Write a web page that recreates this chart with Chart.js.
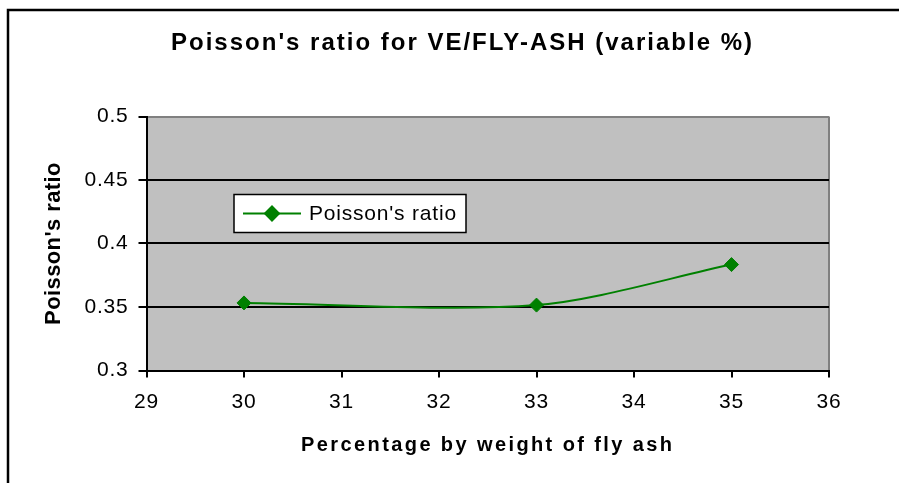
<!DOCTYPE html>
<meta charset="utf-8">
<html lang="en">
<head>
  <title>poisson ratio vs fly ash</title>
  <style type="text/css">
  body { margin: 0; background: #ffffff; }
  canvas { display: block; }
  </style>
</head>
<body>

<canvas id="myChart" width="899" height="483"></canvas>

<script src="https://cdn.jsdelivr.net/npm/chart.js"></script>

<script>

  // values
  const FlyAsh  = [30, 33, 35];               // % by weight
  const Poisson = [0.3532, 0.3515, 0.3834];
  const Xtics = [29, 30, 31, 32, 33, 34, 35, 36];
  const Ytics = [0.3, 0.35, 0.4, 0.45, 0.5];
  const SERIES = "Poisson's ratio";
  const TITLE = "Poisson's ratio for VE/FLY-ASH (variable %)";

  const FONT = '"Liberation Sans", Arial, sans-serif';
  const GREEN = '#008000';

  const canvas = document.getElementById('myChart');
  const ctx = canvas.getContext('2d');

  // the original text is spread out a lot, so add letter spacing per kind of text
  const rawFillText = ctx.fillText.bind(ctx);
  ctx.fillText = function(text, x, y, maxWidth) {
    var f = ctx.font;
    var m = /(\d+(\.\d+)?)px/.exec(f);
    var size = m ? parseFloat(m[1]) : 12;
    var ls = 0.8;                       // tick labels + legend
    if (/bold|700/.test(f)) {
      if (size >= 24) ls = 2;           // chart title
      else if (size >= 22) ls = 0.4;    // y axis title
      else ls = 2.4;                    // x axis title
    }
    ctx.letterSpacing = ls + 'px';
    if (maxWidth === undefined) rawFillText(text, x, y);
    else rawFillText(text, x, y, maxWidth);
    ctx.letterSpacing = '0px';
  };

  let Datapts = [];
  for (var i = 0; i < FlyAsh.length; ++i) {
    Datapts.push({x: FlyAsh[i], y: Poisson[i]});
  }

  // grey plot area + the frame of the chart object + title
  const backdrop = {
    id: 'backdrop',
    beforeDraw: (chart) => {
      const c = chart.ctx;
      const a = chart.chartArea;
      c.save();
      c.fillStyle = '#ffffff';
      c.fillRect(0, 0, chart.width, chart.height);
      c.strokeStyle = '#000000';
      c.lineWidth = 2.5;
      c.strokeRect(8, 10, chart.width + 10, chart.height + 10);
      c.fillStyle = '#c0c0c0';
      c.fillRect(a.left, a.top, a.right - a.left, a.bottom - a.top);
      c.strokeStyle = '#808080';
      c.lineWidth = 2;
      c.beginPath();
      c.moveTo(a.right, a.top);
      c.lineTo(a.right, a.bottom);
      c.stroke();
      // title is centred on the whole excel chart object, not on the canvas
      c.fillStyle = '#000000';
      c.font = 'bold 24px ' + FONT;
      c.textAlign = 'center';
      c.textBaseline = 'alphabetic';
      c.fillText(TITLE, chart.width / 2 + 13, 50);
      c.restore();
    }
  };

  // legend box sits inside the plot, like excel put it
  const boxLegend = {
    id: 'boxLegend',
    afterDraw: (chart) => {
      const c = chart.ctx;
      const a = chart.chartArea;
      const ds = chart.data.datasets[0];
      const x0 = a.left + 87.5, y0 = a.top + 78, w = 232, h = 38;
      const ym = y0 + h / 2;
      c.save();
      c.fillStyle = '#ffffff';
      c.fillRect(x0, y0, w, h);
      c.strokeStyle = '#000000';
      c.lineWidth = 1.5;
      c.strokeRect(x0, y0, w, h);
      c.strokeStyle = ds.borderColor;
      c.lineWidth = ds.borderWidth;
      c.beginPath();
      c.moveTo(x0 + 9, ym);
      c.lineTo(x0 + 67, ym);
      c.stroke();
      c.fillStyle = ds.pointBackgroundColor;
      c.strokeStyle = ds.pointBorderColor;
      Chart.helpers.drawPoint(c, {pointStyle: 'rectRot', radius: ds.pointRadius, borderWidth: 1}, x0 + 38, ym);
      c.fillStyle = '#000000';
      c.font = '21px ' + FONT;
      c.textAlign = 'left';
      c.textBaseline = 'middle';
      c.fillText(ds.label, x0 + 75, ym + 1);
      c.restore();
    }
  };

  const our_chart = new Chart(canvas, {
    type: 'scatter',
    data: {
      datasets: [{
        label: SERIES,
        data: Datapts,
        showLine: true,
        tension: 0.3,
        borderColor: GREEN,
        borderWidth: 2,
        pointStyle: 'rectRot',
        pointRadius: 7,
        pointBackgroundColor: GREEN,
        pointBorderColor: GREEN,
        pointBorderWidth: 1
      }]
    },
    plugins: [backdrop, boxLegend],
    options: {
      responsive: false,
      animation: false,
      layout: {padding: {left: 24, right: 70, top: 116.5, bottom: 0}},
      plugins: {
        legend: {display: false},
        tooltip: {enabled: false},
        title: {display: false}
      },
      scales: {
        x: {
          type: 'linear',
          min: 29, max: 36,
          afterBuildTicks: (axis) => { axis.ticks = Xtics.map(v => ({value: v})); },
          afterFit: (axis) => { axis.height = 112.5; },
          grid: {drawOnChartArea: false, drawTicks: true, tickLength: 7, tickColor: '#000000', lineWidth: 2},
          border: {color: '#000000', width: 2},
          ticks: {
            color: '#000000',
            padding: 12,
            maxRotation: 0,
            font: {family: FONT, size: 21},
            callback: (v) => String(v)
          },
          title: {
            display: true,
            text: 'Percentage by weight of fly ash',
            color: '#000000',
            font: {family: FONT, size: 20, weight: 'bold'},
            padding: {top: 0, bottom: 26}
          }
        },
        y: {
          min: 0.3, max: 0.5,
          afterBuildTicks: (axis) => { axis.ticks = Ytics.map(v => ({value: v})); },
          afterFit: (axis) => { axis.width = 122.5; },
          grid: {
            color: (c) => (c.tick && c.tick.value === 0.5) ? '#808080' : '#000000',
            lineWidth: 2,
            tickLength: 8,
            tickColor: '#000000'
          },
          border: {color: '#000000', width: 2},
          ticks: {
            color: '#000000',
            padding: 10,
            font: {family: FONT, size: 21},
            callback: (v) => String(v)
          },
          title: {
            display: true,
            text: "Poisson's ratio",
            color: '#000000',
            font: {family: FONT, size: 22, weight: 'bold'},
            padding: {top: 17, bottom: 0}
          }
        }
      }
    }
  });

</script>
</body>
</html>
